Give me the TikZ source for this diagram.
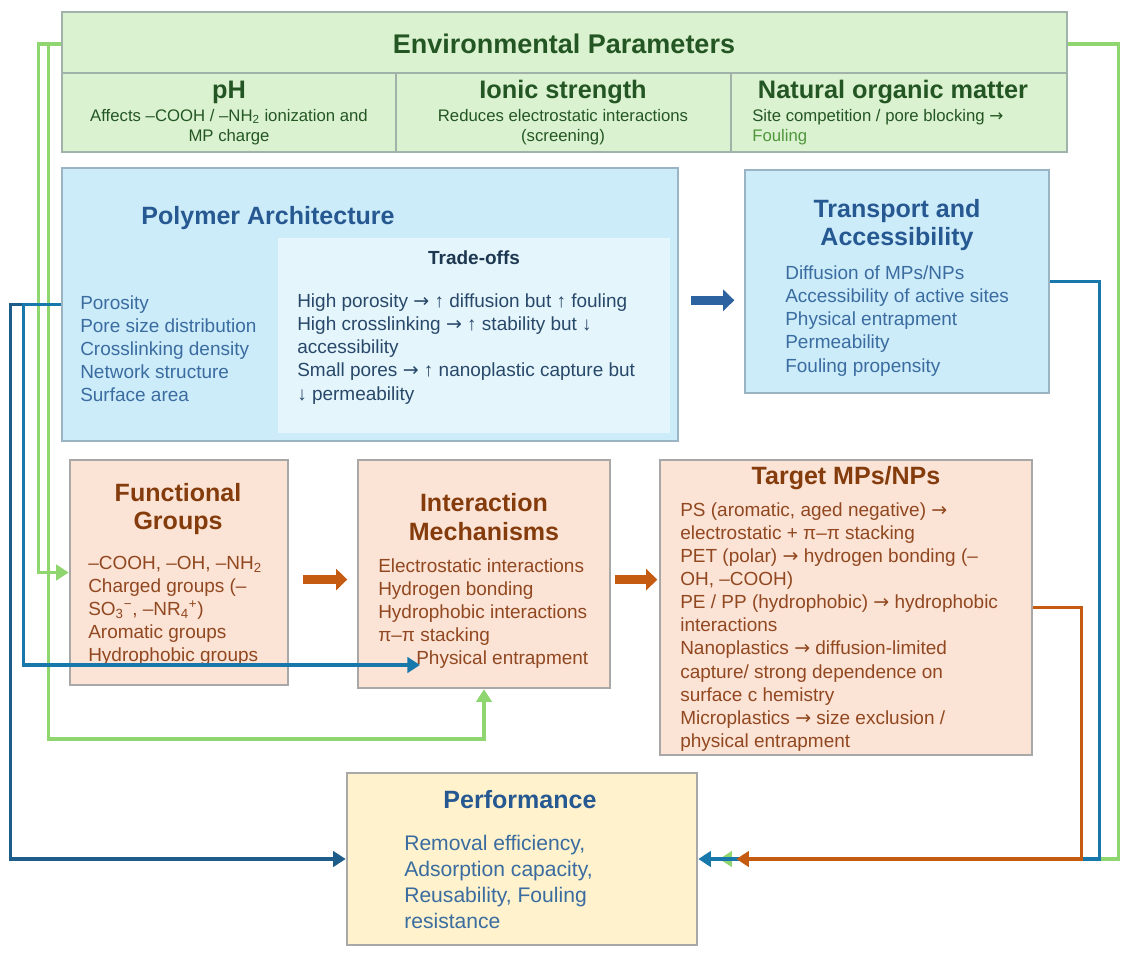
\documentclass[tikz,border=0pt]{standalone}
\usepackage{fontspec}
\setmainfont{Liberation Sans}
\newfontfamily\arrowfont{DejaVu Sans}
\newcommand{\ra}{{\arrowfont →}}
\usetikzlibrary{arrows.meta}

\definecolor{envfill}{RGB}{218,242,208}
\definecolor{envedge}{RGB}{160,178,170}
\definecolor{envdark}{RGB}{36,86,36}
\definecolor{envlight}{RGB}{80,150,60}
\definecolor{bluefill}{RGB}{205,236,250}
\definecolor{tradefill}{RGB}{228,245,252}
\definecolor{blueedge}{RGB}{155,180,196}
\definecolor{bluehead}{RGB}{38,88,145}
\definecolor{bluetext}{RGB}{58,108,160}
\definecolor{tradetext}{RGB}{40,72,105}
\definecolor{tradehead}{RGB}{30,55,80}
\definecolor{orangefill}{RGB}{251,227,214}
\definecolor{greyedge}{RGB}{168,168,168}
\definecolor{brownhead}{RGB}{132,60,12}
\definecolor{browntext}{RGB}{145,72,32}
\definecolor{perffill}{RGB}{255,242,204}
\definecolor{greenwire}{RGB}{143,214,112}
\definecolor{navywire}{RGB}{30,92,138}
\definecolor{bluewire}{RGB}{24,120,172}
\definecolor{orangewire}{RGB}{197,90,17}
\definecolor{bigblue}{RGB}{44,98,160}

\begin{document}
\begin{tikzpicture}[
				x=0.025cm,
				y=-0.025cm,
				>={Triangle[length=9pt,width=11pt]},
				panel/.style={
					rectangle,
					line width=1.8pt,
					inner sep=0pt
				},
				envhead/.style={
					font=\bfseries\fontsize{19.2}{22}\selectfont,
					text=envdark,
					inner sep=0pt
				},
				subhead/.style={
					font=\bfseries\fontsize{18}{21}\selectfont,
					text=envdark,
					inner sep=0pt
				},
				envtext/.style={
					font=\fontsize{11.9}{14.2}\selectfont,
					text=envdark,
					inner sep=0pt
				},
				head/.style={
					font=\bfseries\fontsize{17.8}{20.4}\selectfont,
					align=center,
					inner sep=0pt
				},
				list/.style={
					font=\fontsize{13.5}{16.4}\selectfont,
					align=left,
					anchor=west,
					inner sep=0pt
				},
				wire/.style={
					->,
					line width=2.4pt
				},
				blockarrow/.style={
					line width=6.5pt,
					-{Triangle[length=8pt,width=15pt]}
				}
				]
				
				\useasboundingbox (0,0) rectangle (1128,957);
				
				% -------------------------------------------------------------------------
				% Environmental parameters
				% -------------------------------------------------------------------------
				
				\node[panel,draw=envedge,fill=envfill,minimum width=25.125cm,minimum height=3.5cm] (env) at (564.5,82) {};
				\draw[envedge,line width=1.8pt] (62,73) -- (1067,73);
				\draw[envedge,line width=1.8pt] (396,73) -- (396,152);
				\draw[envedge,line width=1.8pt] (731,73) -- (731,152);
				
				\node[envhead] (envtitle) at (564,44) {Environmental Parameters};
				
				\node[subhead] (ph) at (229,92) {pH};
				\node[envtext,align=center] (phtext) at (229,127)
				{Affects –COOH / –NH\textsubscript{2} ionization and\\MP charge};
				
				\node[subhead] (ionic) at (563,92) {Ionic strength};
				\node[envtext,align=center] (ionictext) at (563,127)
				{Reduces electrostatic interactions\\(screening)};
				
				\node[subhead] (nom) at (893,92) {Natural organic matter};
				\node[envtext,align=left,anchor=west] (nomtext) at (752,127)
				{Site competition / pore blocking \ra\\\textcolor{envlight}{Fouling}};
				
				% -------------------------------------------------------------------------
				% Polymer architecture and transport
				% -------------------------------------------------------------------------
				
				\node[panel,draw=blueedge,fill=bluefill,minimum width=15.4cm,minimum height=6.825cm] (poly) at (370,304.5) {};
				\node[panel,fill=tradefill,minimum width=9.8cm,minimum height=4.875cm] (tradebox) at (474,335.5) {};
				
				\node[head,text=bluehead] (polytitle) at (268,218) {Polymer Architecture};
				\node[list,text=bluetext] (polylist) at (80,349)
				{Porosity\\Pore size distribution\\Crosslinking density\\Network structure\\Surface area};
				
				\node[head,text=tradehead,font=\bfseries\fontsize{13.5}{16}\selectfont] (tradetitle) at (474,258) {Trade-offs};
				\node[list,text=tradetext] (tradelist) at (297,349)
				{High porosity \ra{} ↑ diffusion but ↑ fouling\\
					High crosslinking \ra{} ↑ stability but ↓\\
					accessibility\\
					Small pores \ra{} ↑ nanoplastic capture but\\
					↓ permeability};
				
				\node[panel,draw=blueedge,fill=bluefill,minimum width=7.6cm,minimum height=5.575cm] (trans) at (897,281.5) {};
				\node[head,text=bluehead,font=\bfseries\fontsize{17.8}{20}\selectfont] (transtitle) at (897,225) {Transport and\\Accessibility};
				\node[list,text=bluetext] (translist) at (785,321)
				{Diffusion of MPs/NPs\\Accessibility of active sites\\Physical entrapment\\Permeability\\Fouling propensity};
				
				% -------------------------------------------------------------------------
				% Chemistry row
				% -------------------------------------------------------------------------
				
				\node[panel,draw=greyedge,fill=orangefill,minimum width=5.45cm,minimum height=5.625cm] (fg) at (179,572.5) {};
				\node[head,text=brownhead] (fgtitle) at (178,509) {Functional\\Groups};
				\node[list,text=browntext] (fglist) at (88,611)
				{–COOH, –OH, –NH\textsubscript{2}\\
					Charged groups (–\\
					SO\textsubscript{3}\textsuperscript{−}, –NR\textsubscript{4}\textsuperscript{+})\\
					Aromatic groups\\
					Hydrophobic groups};
				
				\node[panel,draw=greyedge,fill=orangefill,minimum width=6.3cm,minimum height=5.7cm] (im) at (484,574) {};
				\node[head,text=brownhead] (imtitle) at (484,517) {Interaction\\Mechanisms};
				\node[list,text=browntext] (imlist) at (378,613.5)
				{Electrostatic interactions\\
					Hydrogen bonding\\
					Hydrophobic interactions\\
					π–π stacking\\
					\hspace*{0.95cm}Physical entrapment};
				
				\node[panel,draw=greyedge,fill=orangefill,minimum width=9.3cm,minimum height=7.375cm] (target) at (846,607.5) {};
				\node[head,text=brownhead] (targettitle) at (846,478) {Target MPs/NPs};
				\node[list,text=browntext] (targetlist) at (680,627)
				{PS (aromatic, aged negative) \ra\\
					electrostatic + π–π stacking\\
					PET (polar) \ra{} hydrogen bonding (–\\
					OH, –COOH)\\
					PE / PP (hydrophobic) \ra{} hydrophobic\\
					interactions\\
					Nanoplastics \ra{} diffusion-limited\\
					capture/ strong dependence on\\
					surface c hemistry\\
					Microplastics \ra{} size exclusion /\\
					physical entrapment};
				
				% -------------------------------------------------------------------------
				% Performance
				% -------------------------------------------------------------------------
				
				\node[panel,draw=greyedge,fill=perffill,minimum width=8.75cm,minimum height=4.3cm] (perf) at (522,859) {};
				\node[head,text=bluehead] (perftitle) at (520,800) {Performance};
				\node[list,text=bluetext,font=\fontsize{15}{18.5}\selectfont] (perflist) at (404,882)
				{Removal efficiency,\\Adsorption capacity,\\Reusability, Fouling\\resistance};
				
				\coordinate (entrap) at (420,665);
				
				% -------------------------------------------------------------------------
				% Block arrows between boxes
				% -------------------------------------------------------------------------
				
				\draw[blockarrow,bigblue,shorten <=0.3cm] ([yshift=3pt]poly.east) -- ++(55,0);
				\draw[blockarrow,orangewire,shorten <=0.35cm] ([yshift=-5pt]fg.east) -- ++(58,0);
				\draw[blockarrow,orangewire,shorten <=0.1cm] ([yshift=-4pt]im.east) -- ++(46,0);
				
				% -------------------------------------------------------------------------
				% Feedback wires
				% -------------------------------------------------------------------------
				
				\draw[wire,greenwire] (env.west |- envtitle) -- ++(-22,0) |- (fg.west);
				\draw[wire,greenwire] (env.west |- envtitle) -- ++(-12,0) -- ++(0,695) -| (im.south);
				\draw[wire,greenwire,shorten >=0.525cm] (env.east |- envtitle) -- ++(50,0) |- (perf.east);
				
				\draw[wire,navywire] (poly.west) -- ++(-50,0) |- (perf.west);
				\draw[wire,bluewire] (poly.west) -- ++(-37,0) |- (entrap);
				\draw[wire,bluewire] (trans.east) -- ++(49,0) |- (perf.east);
				
				\draw[wire,orangewire,shorten >=0.95cm] (target.east) -- ++(48,0) |- (perf.east);
				
\end{tikzpicture}
\end{document}
